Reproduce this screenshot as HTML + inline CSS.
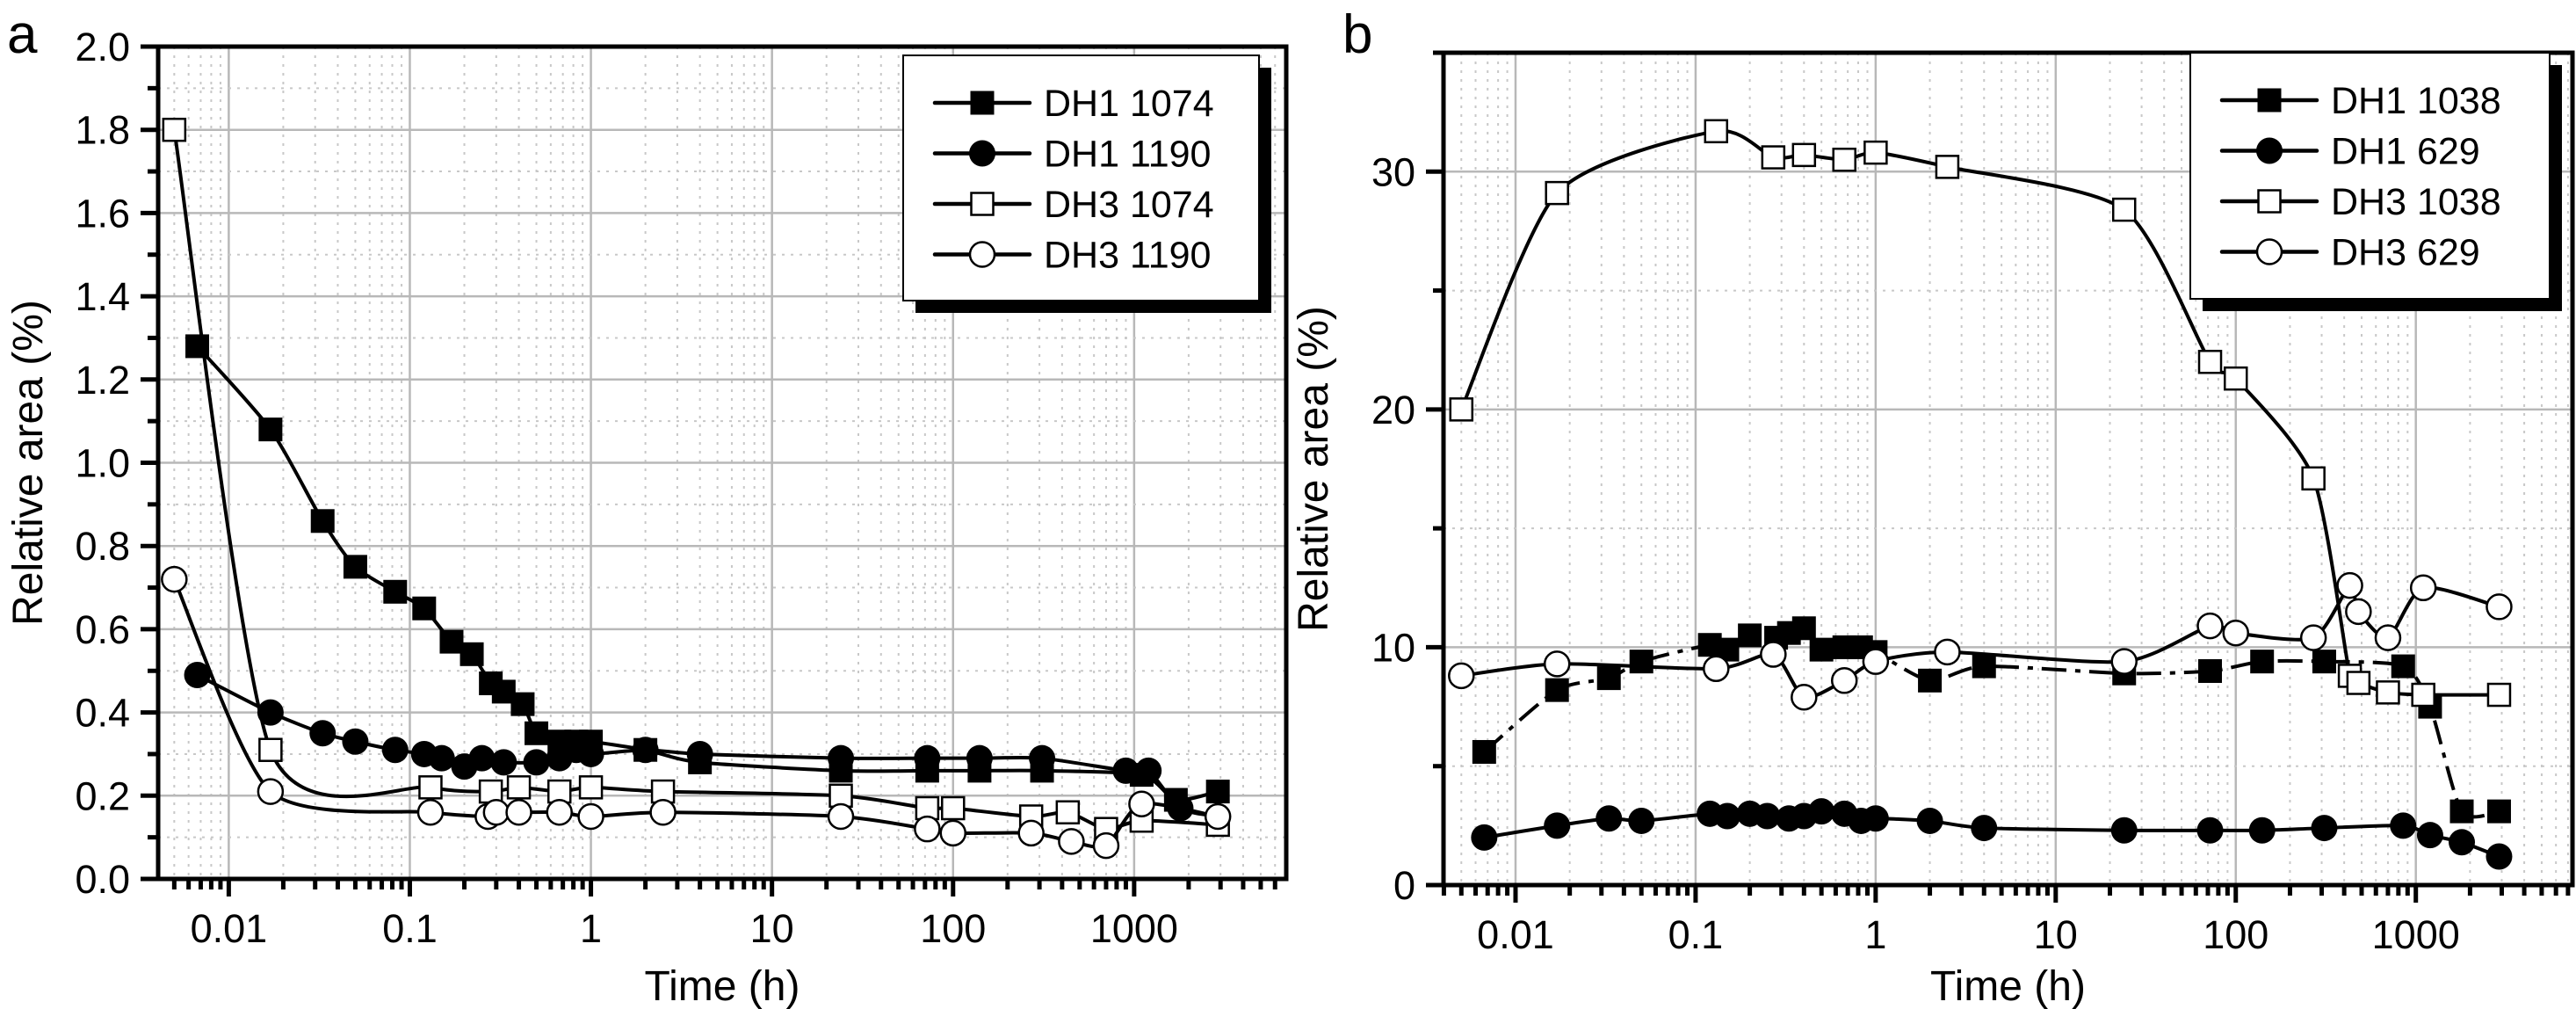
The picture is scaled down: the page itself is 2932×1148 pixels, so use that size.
<!DOCTYPE html>
<html><head><meta charset="utf-8">
<style>
html,body{margin:0;padding:0;background:#fff;}
svg{display:block;font-family:"Liberation Sans",Arial,sans-serif;}
</style></head>
<body>
<svg id="fig" width="2932" height="1148" viewBox="0 0 2932 1148" xmlns="http://www.w3.org/2000/svg"></svg>
<script>
// ---- Panel a data ----
const aDH1_1074_x=[0.0067,0.017,0.033,0.05,0.083,0.12,0.17,0.22,0.28,0.33,0.42,0.5,0.67,0.83,1,2,4,24,72,140,310,1100,1700,2900];
const aDH1_1074_y=[1.28,1.08,0.86,0.75,0.69,0.65,0.57,0.54,0.47,0.45,0.42,0.35,0.33,0.33,0.33,0.31,0.28,0.26,0.26,0.26,0.26,0.25,0.19,0.21];
const aDH1_1190_x=[0.0067,0.017,0.033,0.05,0.083,0.12,0.15,0.2,0.25,0.33,0.5,0.67,0.83,1,2,4,24,72,140,310,900,1200,1800,2900];
const aDH1_1190_y=[0.49,0.40,0.35,0.33,0.31,0.30,0.29,0.27,0.29,0.28,0.28,0.29,0.31,0.30,0.31,0.30,0.29,0.29,0.29,0.29,0.26,0.26,0.17,0.15];
const aDH3_1074_x=[0.005,0.017,0.13,0.28,0.4,0.67,1,2.5,24,72,100,270,430,700,1100,2900];
const aDH3_1074_y=[1.80,0.31,0.22,0.21,0.22,0.21,0.22,0.21,0.20,0.17,0.17,0.15,0.16,0.12,0.14,0.13];
const aDH3_1190_x=[0.005,0.017,0.13,0.27,0.3,0.4,0.67,1,2.5,24,72,100,270,450,700,1100,2900];
const aDH3_1190_y=[0.72,0.21,0.16,0.15,0.16,0.16,0.16,0.15,0.16,0.15,0.12,0.11,0.11,0.09,0.08,0.18,0.15];
const aYTicks=["0.0","0.2","0.4","0.6","0.8","1.0","1.2","1.4","1.6","1.8","2.0"];
// ---- Panel b data ----
const bDH1_1038_x=[0.0067,0.017,0.033,0.05,0.12,0.15,0.2,0.28,0.33,0.4,0.5,0.67,0.83,1,2,4,24,72,140,310,850,1200,1800,2900];
const bDH1_1038_y=[5.6,8.2,8.7,9.4,10.1,9.9,10.5,10.4,10.6,10.8,9.9,10.0,10.0,9.8,8.6,9.2,8.9,9.0,9.4,9.4,9.2,7.5,3.1,3.1];
const bDH1_629_x=[0.0067,0.017,0.033,0.05,0.12,0.15,0.2,0.25,0.33,0.4,0.5,0.67,0.83,1,2,4,24,72,140,310,850,1200,1800,2900];
const bDH1_629_y=[2.0,2.5,2.8,2.7,3.0,2.9,3.0,2.9,2.8,2.9,3.1,3.0,2.7,2.8,2.7,2.4,2.3,2.3,2.3,2.4,2.5,2.1,1.8,1.2];
const bDH3_1038_x=[0.005,0.017,0.13,0.27,0.4,0.67,1,2.5,24,72,100,270,430,480,700,1100,2900];
const bDH3_1038_y=[20.0,29.1,31.7,30.6,30.7,30.5,30.8,30.2,28.4,22.0,21.3,17.1,8.8,8.5,8.1,8.0,8.0];
const bDH3_629_x=[0.005,0.017,0.13,0.27,0.4,0.67,1,2.5,24,72,100,270,430,480,700,1100,2900];
const bDH3_629_y=[8.8,9.3,9.1,9.7,7.9,8.6,9.4,9.8,9.4,10.9,10.6,10.4,12.6,11.5,10.4,12.5,11.7];
const bYTicks=["0","10","20","30"];
const xTickLabels=["0.01","0.1","1","10","100","1000"];

const NS="http://www.w3.org/2000/svg";
const svg=document.getElementById('fig');
function mk(tag,attrs,parent,name){const e=document.createElementNS(NS,tag);for(const k in attrs)e.setAttribute(k,attrs[k]);
  
  
  (parent||svg).appendChild(e);return e;}

function smoothPath(pts){
  if(pts.length<2)return '';
  let d='M'+pts[0][0]+','+pts[0][1];
  for(let i=0;i<pts.length-1;i++){
    const p0=pts[Math.max(0,i-1)],p1=pts[i],p2=pts[i+1],p3=pts[Math.min(pts.length-1,i+2)];
    const t=0.12;
    const c1=[p1[0]+(p2[0]-p0[0])*t,p1[1]+(p2[1]-p0[1])*t];
    const c2=[p2[0]-(p3[0]-p1[0])*t,p2[1]-(p3[1]-p1[1])*t];
    d+=' C'+c1[0]+','+c1[1]+' '+c2[0]+','+c2[1]+' '+p2[0]+','+p2[1];
  }
  return d;
}

function panel(cfg){
  const g=mk('g',{},svg,cfg.name);
  const L=cfg.L,R=cfg.R,T=cfg.T,B=cfg.B;
  const lx0=cfg.lx0,lx1=cfg.lx1;
  const X=v=>L+(Math.log10(v)-lx0)/(lx1-lx0)*(R-L);
  const Y=v=>B-(v-cfg.ymin)/(cfg.ymax-cfg.ymin)*(B-T);
  const grid=mk('g',{},g,'grid');
  for(let d=-3;d<=4;d++){for(let m=1;m<=9;m++){const v=m*Math.pow(10,d);const lv=Math.log10(v);
    if(lv<lx0-1e-9||lv>lx1+1e-9)continue;const x=X(v);
    mk('line',{x1:x,x2:x,y1:T,y2:B,stroke:m==1?'#b8b8b8':'#c8c8c8','stroke-width':m==1?2.5:2,'stroke-dasharray':m==1?'none':'3 7'},grid,m==1?'x-major-grid':'x-minor-grid');
    mk('line',{x1:x,x2:x,y1:B,y2:B+(m==1?20:12),stroke:'#000','stroke-width':5},g,m==1?'x-major-tick':'x-minor-tick');
  }}
  const nMinor=Math.round((cfg.ymax-cfg.ymin)/cfg.yminor);
  for(let i=0;i<=nMinor;i++){const v=cfg.ymin+i*cfg.yminor;const y=Y(v);const major=i%2==0;
    if(i>0&&i<nMinor)mk('line',{x1:L,x2:R,y1:y,y2:y,stroke:major?'#b8b8b8':'#c8c8c8','stroke-width':major?2.5:2,'stroke-dasharray':major?'none':'3 7'},grid,major?'y-major-grid':'y-minor-grid');
    mk('line',{x1:L-(major?20:12),x2:L,y1:y,y2:y,stroke:'#000','stroke-width':5},g,major?'y-major-tick':'y-minor-tick');
  }
  cfg.yTicks.forEach((t,i)=>{const v=cfg.ymin+i*cfg.ymajor;const e=mk('text',{x:L-32,y:Y(v)+16,'text-anchor':'end','font-size':45},g,'y-tick-label');e.textContent=t;});
  xTickLabels.forEach((t,i)=>{const v=Math.pow(10,i-2);const e=mk('text',{x:X(v),y:B+72,'text-anchor':'middle','font-size':45},g,'x-tick-label');e.textContent=t;});
  mk('rect',{x:L,y:T,width:R-L,height:B-T,fill:'none',stroke:'#000','stroke-width':5},g,'plot-frame');
  let e=mk('text',{x:(L+R)/2,y:1138,'text-anchor':'middle','font-size':48},g,'x-axis-title');e.textContent='Time (h)';
  e=mk('text',{x:0,y:0,'text-anchor':'middle','font-size':48,transform:'translate('+(cfg.L-132)+','+((T+B)/2)+') rotate(-90)'},g,'y-axis-title');e.textContent='Relative area (%)';
  e=mk('text',{x:cfg.letterX,y:60,'font-size':62},g,'panel-letter');e.textContent=cfg.letter;
  const clipId='clip'+cfg.letter;
  const cp=mk('clipPath',{id:clipId},g,'clip');mk('rect',{x:L,y:T,width:R-L,height:B-T},cp,'clip-rect');
  cfg.series.forEach(s=>{
    const sg=mk('g',{},g,s.name);
    const pts=s.x.map((v,i)=>[X(v),Y(s.y[i])]);
    mk('path',{d:smoothPath(pts),fill:'none',stroke:'#000','stroke-width':4,'stroke-dasharray':s.dash||'none','clip-path':'url(#'+clipId+')'},sg,'series-line');
    pts.forEach(p=>drawMarker(sg,s.marker,p[0],p[1]));
  });
  const lg=mk('g',{},g,'legend');
  const lb=cfg.legend;
  mk('rect',{x:lb.x+14,y:lb.y+14,width:lb.w,height:lb.h,fill:'#000'},lg,'legend-shadow');
  mk('rect',{x:lb.x,y:lb.y,width:lb.w,height:lb.h,fill:'#fff',stroke:'#000','stroke-width':2},lg,'legend-box');
  cfg.series.forEach((s,i)=>{const y=lb.y+54+i*57.5;
    const eg=mk('g',{},lg,'legend-entry');
    mk('line',{x1:lb.x+36,x2:lb.x+144,y1:y,y2:y,stroke:'#000','stroke-width':4.5,'stroke-linecap':'round'},eg,'legend-line');
    drawMarker(eg,s.marker,lb.x+90,y);
    const t=mk('text',{x:lb.x+160,y:y+15,'font-size':43},eg,'legend-label');t.textContent=s.label;
  });
}
function drawMarker(g,m,x,y){
  const s=27;
  if(m=='fs')mk('rect',{x:x-s/2,y:y-s/2,width:s,height:s,fill:'#000'},g,'marker-filled-square');
  else if(m=='os')mk('rect',{x:x-s/2+1,y:y-s/2+1,width:s-2,height:s-2,fill:'#fff',stroke:'#000','stroke-width':2.5},g,'marker-open-square');
  else if(m=='fc')mk('circle',{cx:x,cy:y,r:15,fill:'#000'},g,'marker-filled-circle');
  else mk('circle',{cx:x,cy:y,r:14,fill:'#fff',stroke:'#000','stroke-width':2.5},g,'marker-open-circle');
}

panel({name:'panel-a',letter:'a',letterX:8,L:180,R:1464,T:53,B:1000,lx0:-2.39,lx1:3.84,ymin:0,ymax:2,ymajor:0.2,yminor:0.1,yTicks:aYTicks,
  legend:{x:1028,y:63,w:405,h:279},
  series:[
    {name:'series-dh1-1074',label:'DH1 1074',marker:'fs',x:aDH1_1074_x,y:aDH1_1074_y},
    {name:'series-dh1-1190',label:'DH1 1190',marker:'fc',x:aDH1_1190_x,y:aDH1_1190_y},
    {name:'series-dh3-1074',label:'DH3 1074',marker:'os',x:aDH3_1074_x,y:aDH3_1074_y},
    {name:'series-dh3-1190',label:'DH3 1190',marker:'oc',x:aDH3_1190_x,y:aDH3_1190_y}]});
panel({name:'panel-b',letter:'b',letterX:1528,L:1643,R:2928,T:60,B:1007,lx0:-2.40,lx1:3.87,ymin:0,ymax:35,ymajor:10,yminor:5,yTicks:bYTicks,
  legend:{x:2493,y:60,w:409,h:280},
  series:[
    {name:'series-dh1-1038',label:'DH1 1038',marker:'fs',dash:'28 10 6 10',x:bDH1_1038_x,y:bDH1_1038_y},
    {name:'series-dh1-629',label:'DH1 629',marker:'fc',x:bDH1_629_x,y:bDH1_629_y},
    {name:'series-dh3-1038',label:'DH3 1038',marker:'os',x:bDH3_1038_x,y:bDH3_1038_y},
    {name:'series-dh3-629',label:'DH3 629',marker:'oc',x:bDH3_629_x,y:bDH3_629_y}]});
</script>
</body></html>
